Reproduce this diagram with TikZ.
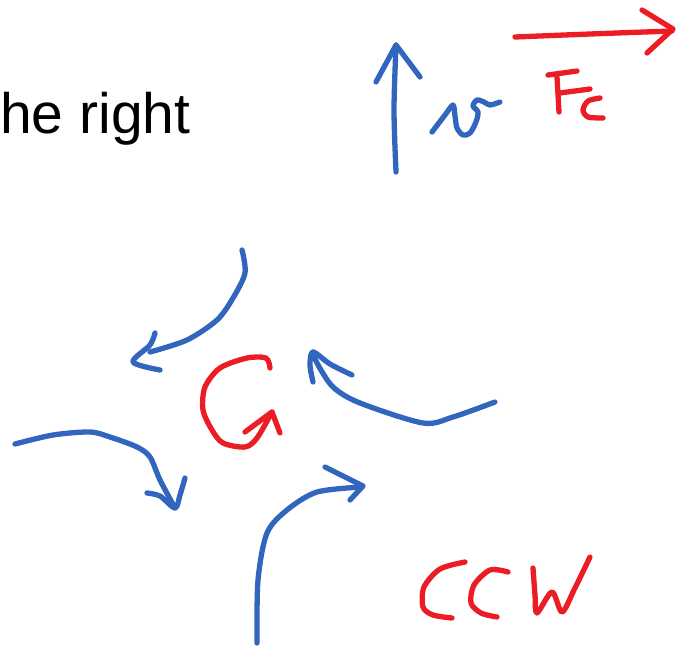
\documentclass[tikz,border=0pt]{standalone}
\usepackage{fontspec}
\setmainfont{Liberation Sans}
\usepackage{xcolor}
\usepackage{tikz}
\usetikzlibrary{arrows.meta,calc}
\definecolor{penblue}{RGB}{50,102,190}
\definecolor{penred}{RGB}{236,28,36}

\begin{document}
\begin{tikzpicture}[x=1pt,y=-1pt,
  pen/.style={line width=5.3pt,line cap=round,line join=round},
  bluepen/.style={pen,draw=penblue},
  redpen/.style={pen,draw=penred},
  heading/.style={inner sep=0pt,font=\fontsize{57}{68}\selectfont}]
\useasboundingbox (0,0) rectangle (683,646);
\node[heading,anchor=base west] (title) at (0,133) {he right};
% velocity arrow and label
\draw[bluepen] plot[smooth] coordinates {(396,172) (394,110) (396,45)};
\draw[bluepen] (376,82) -- (396,45) -- (420,77);
\draw[bluepen] plot[smooth] coordinates {(432,132) (445,115) (453,105) (455,116) (457,128) (463,135) (470,133) (476,122) (478,112) (473,106) (477,100) (484,102) (490,105) (500,102)};
% force arrow and label
\draw[redpen] plot[smooth] coordinates {(515,37) (590,34) (672,31)};
\draw[redpen] (642,10) -- (673,29) -- (647,53);
\draw[redpen] (548,75) -- (577,71);
\draw[redpen] (557,77) -- (559,112);
\draw[redpen] (560,93) -- (590,89);
\draw[redpen] plot[smooth] coordinates {(600,98) (588,101) (583,110) (588,117) (603,118)};
% centre G
\draw[redpen] plot[smooth] coordinates {(270,368) (266,358) (247,358) (220,368) (205,387) (203,410) (212,430) (223,443) (245,447) (257,438) (272,412)};
\draw[redpen] (245,432) -- (272,412) -- (280,433);
% arrows around
\draw[bluepen] plot[smooth] coordinates {(242,250) (245,273) (233,298) (217,320) (187,340) (150,352)};
\draw[bluepen] plot[smooth] coordinates {(155,333) (150,345) (133,362) (160,370)};
\draw[bluepen] plot[smooth] coordinates {(495,402) (453,417) (423,423) (360,403) (333,387) (317,363) (313,352)};
\draw[bluepen] plot[smooth] coordinates {(313,382) (310,365) (313,352) (330,364) (352,375)};
\draw[bluepen] plot[smooth] coordinates {(15,444) (53,435) (90,432) (110,437) (137,447) (150,457) (160,480) (175,508)};
\draw[bluepen] plot[smooth] coordinates {(147,493) (160,496) (175,508) (180,495) (185,478)};
\draw[bluepen] plot[smooth] coordinates {(257,643) (258,580) (267,533) (287,510) (317,492) (362,487)};
\draw[bluepen] (325,467) -- (363,486) -- (350,500);
% CCW
\draw[redpen] plot[smooth] coordinates {(465,562) (440,569) (424,587) (423,607) (433,615) (452,618)};
\draw[redpen] plot[smooth] coordinates {(508,572) (490,570) (474,585) (471,603) (481,613) (497,617)};
\draw[redpen] plot[smooth] coordinates {(533,568) (535,595) (537,613) (552,592) (562,612) (574,590) (590,557)};
\end{tikzpicture}
\end{document}
